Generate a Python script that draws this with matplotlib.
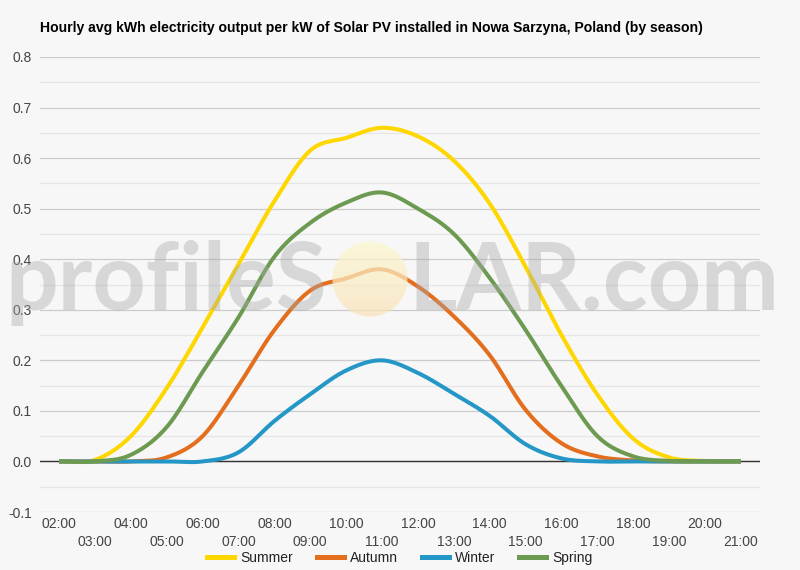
import numpy as np
import matplotlib
matplotlib.use("Agg")
import matplotlib.pyplot as plt
from matplotlib.lines import Line2D

# ---------------- data ----------------
hours = ["02:00", "03:00", "04:00", "05:00", "06:00", "07:00", "08:00", "09:00",
         "10:00", "11:00", "12:00", "13:00", "14:00", "15:00", "16:00", "17:00",
         "18:00", "19:00", "20:00", "21:00"]
summer = [0.0, 0.003, 0.05, 0.145, 0.265, 0.39, 0.515, 0.615, 0.64, 0.66,
          0.643, 0.595, 0.51, 0.385, 0.25, 0.132, 0.045, 0.008, 0.001, 0.0]
autumn = [0.0, 0.0, 0.0, 0.008, 0.05, 0.15, 0.26, 0.338, 0.362, 0.38,
          0.346, 0.287, 0.21, 0.102, 0.036, 0.01, 0.002, 0.0, 0.0, 0.0]
winter = [0.0, 0.0, 0.0, 0.0, 0.0, 0.018, 0.08, 0.133, 0.18, 0.2,
          0.175, 0.134, 0.09, 0.034, 0.006, 0.0, 0.0, 0.0, 0.0, 0.0]
spring = [0.0, 0.0, 0.013, 0.068, 0.177, 0.285, 0.405, 0.472, 0.512, 0.532,
          0.5, 0.45, 0.363, 0.26, 0.149, 0.05, 0.01, 0.001, 0.0, 0.0]
series_names = ["Summer", "Autumn", "Winter", "Spring"]
series_colors = ["#FFD700", "#E36F1E", "#2497C6", "#6C9A50"]
title = "Hourly avg kWh electricity output per kW of Solar PV installed in Nowa Sarzyna, Poland (by season)"
yticks = [-0.1, 0.0, 0.1, 0.2, 0.3, 0.4, 0.5, 0.6, 0.7, 0.8]


def smooth(y, n=24):
    """Hermite (Catmull-Rom) curve through the points, like a 'function' curve."""
    y = np.asarray(y, float)
    N = len(y)
    m = np.zeros(N)
    m[1:-1] = (y[2:] - y[:-2]) / 2.0
    m[0] = y[1] - y[0]
    m[-1] = y[-1] - y[-2]
    xs, ys = [], []
    for i in range(N - 1):
        t = np.linspace(0, 1, n, endpoint=(i == N - 2))
        h00 = 2 * t**3 - 3 * t**2 + 1
        h10 = t**3 - 2 * t**2 + t
        h01 = -2 * t**3 + 3 * t**2
        h11 = t**3 - t**2
        ys.append(h00 * y[i] + h10 * m[i] + h01 * y[i + 1] + h11 * m[i + 1])
        xs.append(i + t)
    return np.concatenate(xs), np.concatenate(ys)


plt.rcParams['font.family'] = ['Liberation Sans', 'DejaVu Sans']
BG = "#f7f7f7"
W, H = 800, 570
fig = plt.figure(figsize=(8, 5.7), dpi=100)
fig.patch.set_facecolor(BG)

ax = fig.add_axes([40 / W, 1 - 512 / H, 720 / W, (512 - 57) / H])
ax.set_facecolor(BG)
ax.set_axisbelow(True)
for s in ax.spines.values():
    s.set_visible(False)

x = np.arange(len(hours))
ax.set_xlim(-0.53, len(hours) - 1 + 0.53)
ax.set_ylim(-0.1, 0.8)

# grid
ax.set_yticks(yticks)
ax.set_yticklabels([f"{v:.1f}" for v in yticks])
ax.set_yticks([v + 0.05 for v in yticks[:-1]], minor=True)
ax.grid(axis='y', which='major', color='#cccccc', lw=0.9)
ax.grid(axis='y', which='minor', color='#e6e6e6', lw=0.9)
ax.axhline(0, color='#333333', lw=1.0, zorder=1)

even = x[::2]
odd = x[1::2]
ax.set_xticks(even)
ax.set_xticklabels([hours[i] for i in even])
ax.set_xticks(odd, minor=True)
ax.set_xticklabels([hours[i] for i in odd], minor=True)
ax.tick_params(axis='x', which='major', length=0, pad=3.5, labelsize=10, labelcolor='#444444')
ax.tick_params(axis='x', which='minor', length=0, pad=16.5, labelsize=10, labelcolor='#444444')
ax.tick_params(axis='y', which='both', length=0, pad=6, labelsize=10, labelcolor='#444444')

for name, vals, col in zip(series_names, [summer, autumn, winter, spring], series_colors):
    sx, sy = smooth(vals)
    ax.plot(sx, sy, color=col, lw=2.9, solid_capstyle='butt', zorder=3, label=name)

# title
fig.text(40 / W, 1 - 28 / H, title, fontsize=10.05, fontweight='bold', color='#000000',
         ha='left', va='center')

# legend
handles = [Line2D([0], [0], color=c, lw=3.6) for c in series_colors]
fig.legend(handles, series_names, loc='center', bbox_to_anchor=(0.5, 1 - 558 / H),
           ncol=4, frameon=False, fontsize=10, handlelength=1.95, handletextpad=0.45,
           columnspacing=1.7, labelcolor='#222222')

# watermark (sized to its measured span)
renderer = fig.canvas.get_renderer()
wm_kw = dict(fontweight='bold', color='#a8a8a8', alpha=0.4,
             family=['Lato', 'Open Sans', 'DejaVu Sans'], va='baseline', zorder=10)
t1 = fig.text(327 / W, 1 - 310 / H, "profileS", ha='right', fontsize=60, **wm_kw)
t2 = fig.text(409 / W, 1 - 310 / H, "LAR.com", ha='left', fontsize=60, **wm_kw)
w1 = t1.get_window_extent(renderer).width
w2 = t2.get_window_extent(renderer).width
s1 = 60 * 322 / w1
s2 = 60 * 371 / w2
fs = (s1 + s2) / 2
t1.set_fontsize(fs)
t2.set_fontsize(fs)

# sun disc
cx, cy, r = 370, 279, 38
sax = fig.add_axes([(cx - r) / W, 1 - (cy + r) / H, 2 * r / W, 2 * r / H], zorder=11)
sax.axis('off')
n = 200
yy, xx = np.mgrid[0:n, 0:n]
d = np.hypot(xx - (n - 1) / 2, yy - (n - 1) / 2) / ((n - 1) / 2)
mask = np.clip((1.0 - d) * 60, 0, 1)
t = (yy / (n - 1.0))[..., None]
top = np.array([250, 248, 205]) / 255.0
bot = np.array([251, 226, 185]) / 255.0
rgb = top * (1 - t) + bot * t
img = np.dstack([rgb, (mask * 0.72)[..., None]])
sax.imshow(img, extent=(0, 1, 0, 1), aspect='auto', interpolation='bilinear')
sax.set_xlim(0, 1)
sax.set_ylim(0, 1)

fig.savefig("out.png", dpi=100, facecolor=BG)
